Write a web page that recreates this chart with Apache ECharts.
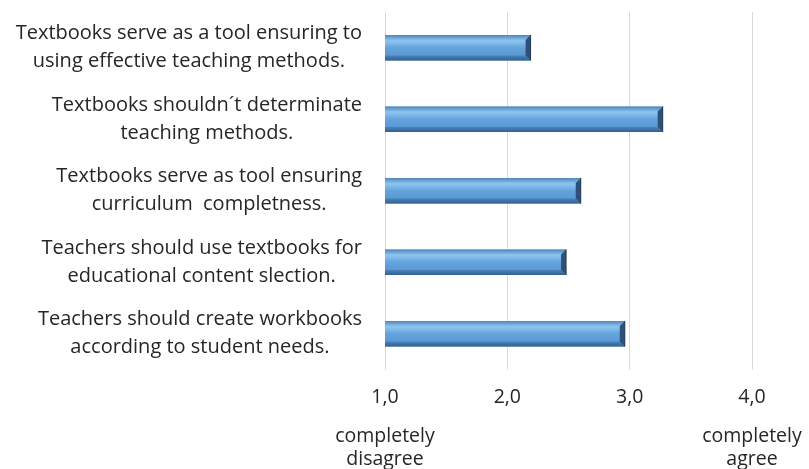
<!DOCTYPE html>
<html>
<head>
<meta charset="utf-8">
<style>
  html, body { margin: 0; padding: 0; background: #fff; }
  #chart { width: 809px; height: 469px; }
</style>
<script src="https://cdn.jsdelivr.net/npm/echarts@6/dist/echarts.min.js"></script>
</head>
<body>
<div id="chart"></div>
<script>
// Survey statements (top to bottom) and their mean agreement scores
const statements = [
  'Textbooks serve as a tool ensuring to\nusing effective teaching methods.',
  'Textbooks shouldn\u00b4t determinate\nteaching methods.',
  'Textbooks serve as tool ensuring\ncurriculum  completness.',
  'Teachers should use textbooks for\neducational content slection.',
  'Teachers should create workbooks\naccording to student needs.'
];
const meanScores = [2.19, 3.27, 2.60, 2.48, 2.96];

// Scale ticks and the verbal anchors shown under the ends of the scale
const scaleTicks = [1, 2, 3, 4];
const scaleAnchors = { 1: ['completely', 'disagree'], 4: ['completely', 'agree'] };

const FONT = '"Open Sans"';
const TEXT = '#262626';

const chart = echarts.init(document.getElementById('chart'), null, { renderer: 'canvas' });

// Bevelled bar: front face plus light top, dark bottom and dark right-end facets
function renderBevelBar(params, api) {
  const start = api.coord([scaleTicks[0], api.value(0)]);
  const end = api.coord([api.value(1), api.value(0)]);
  const h = api.size([0, 1])[1] * 0.36;
  const x0 = start[0], x1 = end[0];
  const yt = end[1] - h / 2, yb = end[1] + h / 2;
  const b = 5;
  const face = new echarts.graphic.LinearGradient(0, 0, 0, 1, [
    { offset: 0, color: '#7fb6e6' },
    { offset: 0.25, color: '#8cc3ee' },
    { offset: 0.5, color: '#64a3dc' },
    { offset: 1, color: '#5392cf' }
  ]);
  return {
    type: 'group',
    children: [
      { type: 'rect', shape: { x: x0, y: yt, width: x1 - x0, height: h },
        style: { fill: face } },
      { type: 'polygon', shape: { points: [[x0, yt], [x1, yt], [x1 - b, yt + b], [x0, yt + b]] },
        style: { fill: new echarts.graphic.LinearGradient(0, 0, 0, 1, [
          { offset: 0, color: '#4d83bd' }, { offset: 1, color: '#86bde9' }]) } },
      { type: 'polygon', shape: { points: [[x0, yb], [x1, yb], [x1 - b, yb - b], [x0, yb - b]] },
        style: { fill: new echarts.graphic.LinearGradient(0, 0, 0, 1, [
          { offset: 0, color: '#4a82bb' }, { offset: 1, color: '#335f8c' }]) } },
      { type: 'polygon', shape: { points: [[x1, yt], [x1, yb], [x1 - b, yb - b], [x1 - b, yt + b]] },
        style: { fill: '#2f5177' } },
      { type: 'line', shape: { x1: x1, y1: yt, x2: x1, y2: yb },
        style: { stroke: '#1f3a57', lineWidth: 1 } }
    ]
  };
}

chart.setOption({
  animation: false,
  grid: { left: 385, right: 57, top: 12, bottom: 99, containLabel: false },
  xAxis: {
    type: 'value',
    min: 1,
    max: 4,
    interval: 1,
    axisLine: { show: false },
    axisTick: { show: false },
    splitLine: { lineStyle: { color: '#d9d9d9', width: 1 } },
    axisLabel: {
      margin: 0,
      formatter: function (v) {
        const tick = '{v|' + v.toFixed(1).replace('.', ',') + '}';
        const words = scaleAnchors[v];
        return words ? tick + '\n{d|' + words[0] + '}\n{d|' + words[1] + '}' : tick;
      },
      rich: {
        v: { fontFamily: FONT, fontSize: 19.5, color: TEXT, lineHeight: 55 },
        d: { fontFamily: FONT, fontSize: 19.5, color: TEXT, lineHeight: 23 }
      }
    }
  },
  yAxis: {
    type: 'category',
    inverse: true,
    data: statements,
    axisLine: { show: true, lineStyle: { color: '#d9d9d9' } },
    axisTick: { show: false },
    axisLabel: {
      margin: 23,
      align: 'right',
      // each line is centred within the label block
      formatter: function (s) {
        return s.split('\n').map(function (line) { return '{c|' + line + '}'; }).join('\n');
      },
      rich: {
        c: { fontFamily: FONT, fontSize: 20, lineHeight: 28, color: TEXT, align: 'center' }
      }
    }
  },
  series: [{
    type: 'custom',
    renderItem: renderBevelBar,
    encode: { x: 1, y: 0 },
    data: meanScores.map(function (s, i) { return [i, s]; })
  }]
});
</script>
</body>
</html>
